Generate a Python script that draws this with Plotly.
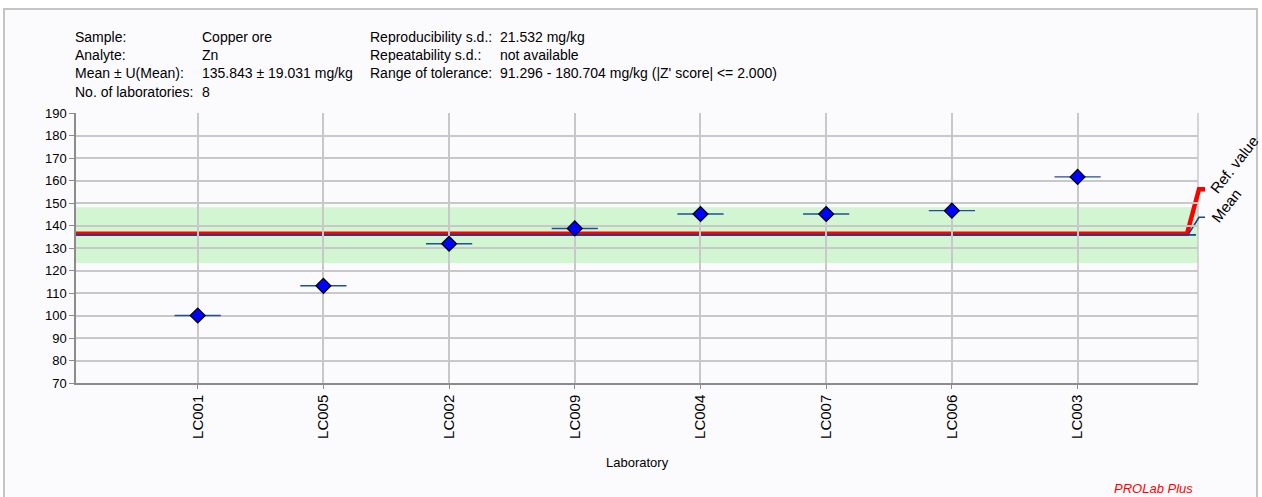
import plotly.graph_objects as go

# ---- data -------------------------------------------------------------
labs = ["LC001", "LC005", "LC002", "LC009", "LC004", "LC007", "LC006", "LC003"]
lab_means = [100.0, 113.2, 131.9, 138.7, 145.1, 145.1, 146.6, 161.6]

ref_value = 136.3
mean_value = 135.843
band_low = 123.3
band_high = 148.1

y_ticks = [70, 80, 90, 100, 110, 120, 130, 140, 150, 160, 170, 180, 190]

header_labels_1 = ["Sample:", "Analyte:", "Mean ± U(Mean):", "No. of laboratories:"]
header_values_1 = ["Copper ore", "Zn", "135.843 ± 19.031 mg/kg", "8"]
header_labels_2 = ["Reproducibility s.d.:", "Repeatability s.d.:", "Range of tolerance:"]
header_values_2 = ["21.532 mg/kg", "not available",
                   "91.296 - 180.704 mg/kg (|Z' score| <= 2.000)"]

# ---- layout geometry (pixels) -----------------------------------------
W, H = 1262, 497
L, R, T, B = 76, 64, 113, 114
PW, PH = W - L - R, H - T - B
FONT = "Liberation Sans, Arial, sans-serif"


def px_x(px):
    return (px - L) / PW


def px_y(py):
    return (H - B - py) / PH


x_idx = list(range(len(labs)))

fig = go.Figure()

# short horizontal bars behind each lab mean
fig.add_trace(go.Scatter(
    x=x_idx, y=lab_means, mode="markers",
    marker=dict(symbol="line-ew", size=33,
                line=dict(color="#1f4f9a", width=1.4)),
    hoverinfo="skip", showlegend=False))

# lab means
fig.add_trace(go.Scatter(
    x=x_idx, y=lab_means, mode="markers",
    marker=dict(symbol="diamond", size=11.5, color="#0000ff",
                line=dict(color="#000000", width=1.2)),
    showlegend=False))

shapes = []
# outer frame (drawn first so everything else sits on top)
shapes.append(dict(type="rect", xref="paper", yref="paper",
                   x0=px_x(4), x1=px_x(1257), y0=px_y(505), y1=px_y(9),
                   fillcolor="#fbfbfd", line=dict(color="#c4c4c4", width=2),
                   layer="below"))
# tolerance band
shapes.append(dict(type="rect", xref="paper", yref="y", x0=0, x1=1,
                   y0=band_low, y1=band_high, fillcolor="#d2f5d2",
                   line=dict(width=0), layer="below"))
# right border of plot area
shapes.append(dict(type="line", xref="paper", yref="paper", x0=1, x1=1,
                   y0=0, y1=1, line=dict(color="#c8c8c8", width=1.5),
                   layer="below"))

# reference value line with its label leader
ref_flag = ref_value + 19.8
shapes.append(dict(
    type="path", xref="paper", yref="y",
    path=(f"M 0,{ref_value} L {px_x(1187)},{ref_value} "
          f"L {px_x(1199)},{ref_flag} L {px_x(1205)},{ref_flag}"),
    line=dict(color="#ff0000", width=4.5), layer="between"))
# mean line with its label leader
mean_flag = mean_value + 7.8
shapes.append(dict(
    type="path", xref="paper", yref="y",
    path=(f"M 0,{mean_value} L {px_x(1196)},{mean_value} "
          f"M {px_x(1188)},{mean_value} "
          f"L {px_x(1199)},{mean_flag} L {px_x(1205)},{mean_flag}"),
    line=dict(color="#1f3f8f", width=1.6), layer="between"))

annotations = []
hdr_top = px_y(27)
for text, xpx in [("<br>".join(header_labels_1), 73),
                  ("<br>".join(header_values_1), 200),
                  ("<br>".join(header_labels_2), 368),
                  ("<br>".join(header_values_2), 498)]:
    annotations.append(dict(text=text, xref="paper", yref="paper",
                            x=px_x(xpx), y=hdr_top, xanchor="left",
                            yanchor="top", align="left", showarrow=False,
                            font=dict(family=FONT, size=14, color="#000")))

annotations.append(dict(text="Ref. value", xref="paper", yref="paper",
                        x=px_x(1234), y=px_y(164), textangle=-52,
                        xanchor="center", yanchor="middle", showarrow=False,
                        font=dict(family=FONT, size=15, color="#000")))
annotations.append(dict(text="Mean", xref="paper", yref="paper",
                        x=px_x(1226), y=px_y(205), textangle=-52,
                        xanchor="center", yanchor="middle", showarrow=False,
                        font=dict(family=FONT, size=15, color="#000")))
annotations.append(dict(text="Laboratory", xref="paper", yref="paper",
                        x=px_x(637), y=px_y(462), xanchor="center",
                        yanchor="middle", showarrow=False,
                        font=dict(family=FONT, size=13, color="#000")))
annotations.append(dict(text="<i>PROLab Plus</i>", xref="paper", yref="paper",
                        x=px_x(1195), y=px_y(488), xanchor="right",
                        yanchor="middle", showarrow=False,
                        font=dict(family=FONT, size=13, color="#ff0000")))

fig.update_layout(
    width=W, height=H, autosize=False,
    margin=dict(l=L, r=R, t=T, b=B),
    paper_bgcolor="#ffffff", plot_bgcolor="rgba(0,0,0,0)",
    shapes=shapes, annotations=annotations, showlegend=False,
    xaxis=dict(range=[-0.968, 7.958], tickmode="array", tickvals=x_idx,
               ticktext=labs, tickangle=-90, showgrid=True,
               gridcolor="#c8c8c8", gridwidth=1.5, showline=True,
               linecolor="#8c8c8c", linewidth=1.5, ticks="outside",
               ticklen=4, tickcolor="#8c8c8c", zeroline=False,
               tickfont=dict(family=FONT, size=15, color="#000")),
    yaxis=dict(range=[70, 190], tickmode="array", tickvals=y_ticks,
               showgrid=True, gridcolor="#c8c8c8", gridwidth=1.5,
               showline=True, linecolor="#8c8c8c", linewidth=1.5,
               ticks="outside", ticklen=5, tickcolor="#8c8c8c",
               zeroline=False,
               tickfont=dict(family=FONT, size=13, color="#000")),
)

fig.write_html("out.html")
